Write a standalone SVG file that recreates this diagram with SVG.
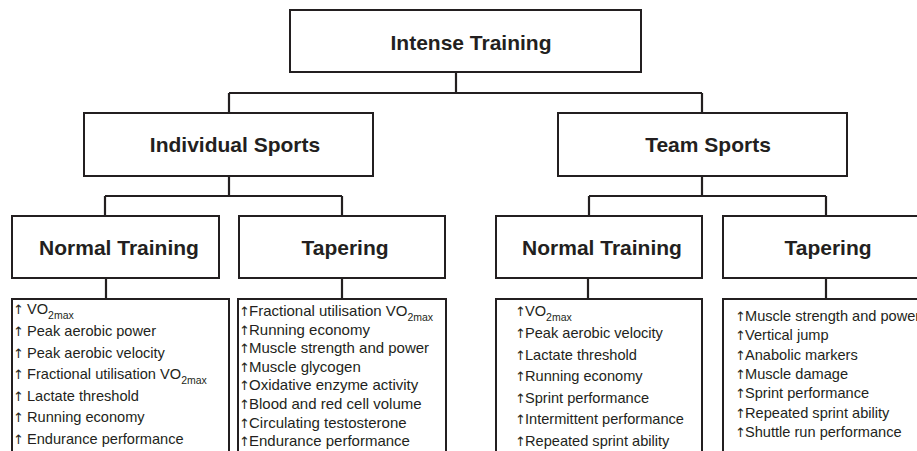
<svg xmlns="http://www.w3.org/2000/svg" width="917" height="451" viewBox="0 0 917 451">
<style>
.box{fill:#fff;stroke:#231f20;stroke-width:2}
.ln{fill:none;stroke:#231f20;stroke-width:2.2}
.h{font-family:"Liberation Sans",Arial,sans-serif;font-weight:bold;font-size:21px;fill:#231f20;text-anchor:middle}
.t{font-family:"Liberation Sans",Arial,sans-serif;font-size:14.6px;fill:#231f20}
.m{font-size:15px}
.s{font-size:10.5px}
.a{font-family:"DejaVu Sans",sans-serif;font-size:13px;fill:#231f20}
</style>
<rect width="917" height="451" fill="#fff"/>
<g id="connectors">
<path class="ln" d="M456 72V93M229 93H702M229 93V113M702 93V113"/>
<path class="ln" d="M229 176V196M105 196H342M105 196V216M342 196V216"/>
<path class="ln" d="M702 176V196M589 196H826M589 196V216M826 196V216"/>
<path class="ln" d="M106 278V299M342 278V299M588 278V299M826 278V299"/>
</g>
<g id="intense"><rect class="box" x="290" y="10" width="351" height="62"/><text class="h" x="471" y="50">Intense Training</text></g>
<g id="individual"><rect class="box" x="84" y="113" width="289" height="63"/><text class="h" x="235" y="152">Individual Sports</text></g>
<g id="team"><rect class="box" x="558" y="113" width="289" height="63"/><text class="h" x="708" y="152">Team Sports</text></g>
<g id="ind-normal"><rect class="box" x="12" y="216" width="207" height="62"/><text class="h" x="119" y="255">Normal Training</text></g>
<g id="ind-taper"><rect class="box" x="239" y="216" width="206" height="62"/><text class="h" x="345" y="255">Tapering</text></g>
<g id="team-normal"><rect class="box" x="496" y="216" width="206" height="62"/><text class="h" x="602" y="255">Normal Training</text></g>
<g id="team-taper"><rect class="box" x="723" y="216" width="210" height="62"/><text class="h" x="828" y="255">Tapering</text></g>
<g id="ind-normal-list"><rect class="box" x="12" y="299" width="217" height="170"/>
<text class="t"><tspan class="a" x="13" y="314">↑</tspan><tspan x="27">VO</tspan><tspan class="s" dy="5">2max</tspan></text>
<text class="t"><tspan class="a" x="13" y="336">↑</tspan><tspan x="27">Peak aerobic power</tspan></text>
<text class="t"><tspan class="a" x="13" y="358">↑</tspan><tspan x="27">Peak aerobic velocity</tspan></text>
<text class="t"><tspan class="a" x="13" y="379">↑</tspan><tspan x="27">Fractional utilisation VO</tspan><tspan class="s" dy="5">2max</tspan></text>
<text class="t"><tspan class="a" x="13" y="401">↑</tspan><tspan x="27">Lactate threshold</tspan></text>
<text class="t"><tspan class="a" x="13" y="422">↑</tspan><tspan x="27">Running economy</tspan></text>
<text class="t"><tspan class="a" x="13" y="444">↑</tspan><tspan x="27">Endurance performance</tspan></text>
</g>
<g id="ind-taper-list"><rect class="box" x="238" y="299" width="208" height="170"/>
<text class="t m"><tspan class="a" x="239" y="316">↑</tspan><tspan x="249">Fractional utilisation VO</tspan><tspan class="s" dy="5">2max</tspan></text>
<text class="t m"><tspan class="a" x="239" y="334.6">↑</tspan><tspan x="249">Running economy</tspan></text>
<text class="t m"><tspan class="a" x="239" y="353.2">↑</tspan><tspan x="249">Muscle strength and power</tspan></text>
<text class="t m"><tspan class="a" x="239" y="371.8">↑</tspan><tspan x="249">Muscle glycogen</tspan></text>
<text class="t m"><tspan class="a" x="239" y="390.4">↑</tspan><tspan x="249">Oxidative enzyme activity</tspan></text>
<text class="t m"><tspan class="a" x="239" y="409">↑</tspan><tspan x="249">Blood and red cell volume</tspan></text>
<text class="t m"><tspan class="a" x="239" y="427.6">↑</tspan><tspan x="249">Circulating testosterone</tspan></text>
<text class="t m"><tspan class="a" x="239" y="446.2">↑</tspan><tspan x="249">Endurance performance</tspan></text>
</g>
<g id="team-normal-list"><rect class="box" x="496" y="299" width="206" height="170"/>
<text class="t"><tspan class="a" x="515" y="316">↑</tspan><tspan x="525">VO</tspan><tspan class="s" dy="5">2max</tspan></text>
<text class="t"><tspan class="a" x="515" y="338">↑</tspan><tspan x="525">Peak aerobic velocity</tspan></text>
<text class="t"><tspan class="a" x="515" y="359.5">↑</tspan><tspan x="525">Lactate threshold</tspan></text>
<text class="t"><tspan class="a" x="515" y="381">↑</tspan><tspan x="525">Running economy</tspan></text>
<text class="t"><tspan class="a" x="515" y="402.5">↑</tspan><tspan x="525">Sprint performance</tspan></text>
<text class="t"><tspan class="a" x="515" y="424">↑</tspan><tspan x="525">Intermittent performance</tspan></text>
<text class="t"><tspan class="a" x="515" y="445.5">↑</tspan><tspan x="525">Repeated sprint ability</tspan></text>
</g>
<g id="team-taper-list"><rect class="box" x="723" y="299" width="210" height="170"/>
<text class="t"><tspan class="a" x="735" y="321">↑</tspan><tspan x="745">Muscle strength and power</tspan></text>
<text class="t"><tspan class="a" x="735" y="340.3">↑</tspan><tspan x="745">Vertical jump</tspan></text>
<text class="t"><tspan class="a" x="735" y="359.6">↑</tspan><tspan x="745">Anabolic markers</tspan></text>
<text class="t"><tspan class="a" x="735" y="378.9">↑</tspan><tspan x="745">Muscle damage</tspan></text>
<text class="t"><tspan class="a" x="735" y="398.2">↑</tspan><tspan x="745">Sprint performance</tspan></text>
<text class="t"><tspan class="a" x="735" y="417.5">↑</tspan><tspan x="745">Repeated sprint ability</tspan></text>
<text class="t"><tspan class="a" x="735" y="436.8">↑</tspan><tspan x="745">Shuttle run performance</tspan></text>
</g>
</svg>
